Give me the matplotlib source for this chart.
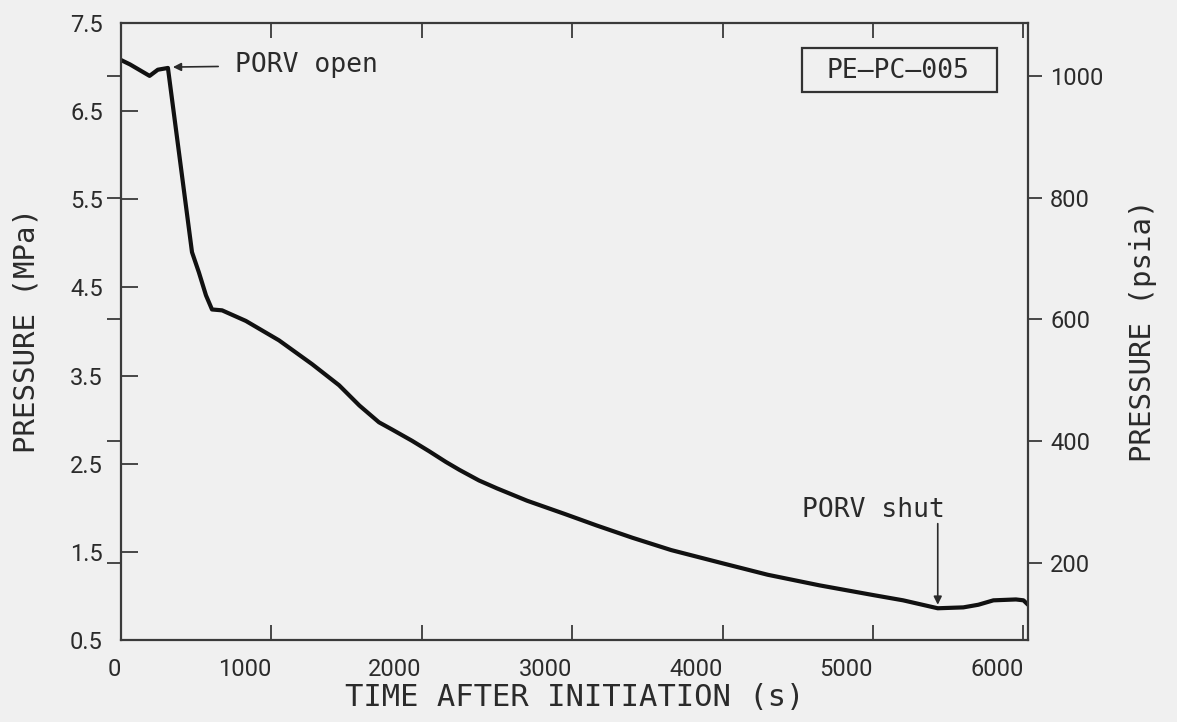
import matplotlib
matplotlib.use("Agg")
import matplotlib.pyplot as plt
from matplotlib.patches import Rectangle

# ---- data ----
time_s = [0, 60, 120, 190, 245, 312, 472, 518, 565, 605, 672, 830, 1050, 1270,
          1450, 1585, 1715, 1800, 1935, 2050, 2160, 2250, 2380, 2500, 2700, 2950,
          3161, 3400, 3658, 4000, 4300, 4644, 5000, 5200, 5430, 5600, 5700, 5800,
          5950, 6000, 6030]
pressure_mpa = [7.08, 7.03, 6.97, 6.90, 6.97, 6.99, 4.90, 4.67, 4.41, 4.25, 4.24,
                4.12, 3.90, 3.63, 3.39, 3.16, 2.97, 2.89, 2.76, 2.64, 2.52, 2.43,
                2.31, 2.22, 2.08, 1.93, 1.80, 1.66, 1.52, 1.37, 1.24, 1.12, 1.01,
                0.95, 0.86, 0.87, 0.90, 0.95, 0.96, 0.95, 0.90]

x_ticks = [0, 1000, 2000, 3000, 4000, 5000, 6000]
mpa_ticks = [0.5, 1.5, 2.5, 3.5, 4.5, 5.5, 6.5, 7.5]
psia_ticks = [200, 400, 600, 800, 1000]
MPA_TO_PSIA = 145.038

W, H = 1177, 722
BG = "#f0f0f0"
INK = "#2b2b2b"
TEXT_FONT = ["DejaVu Sans Mono", "DejaVu Sans"]
plt.rcParams['font.family'] = ['Roboto', 'DejaVu Sans']

fig = plt.figure(figsize=(W / 100, H / 100), dpi=100, facecolor=BG)
L, R, T, B = 121, 1028, 23, 640
ax = fig.add_axes([L / W, 1 - B / H, (R - L) / W, (B - T) / H])
ax.set_facecolor(BG)

ax.plot(time_s, pressure_mpa, color="#111111", lw=3.0,
        solid_joinstyle="round", solid_capstyle="round")

ax.set_xlim(0, 6030)
ax.set_ylim(0.5, 7.5)
ax.set_xticks(x_ticks)
ax.set_xticklabels([str(v) for v in x_ticks])
for lbl in ax.get_xticklabels():
    lbl.set_ha("right")
ax.set_yticks(mpa_ticks)
ax.set_yticklabels([f"{v:.1f}" for v in mpa_ticks])

for s in ax.spines.values():
    s.set_linewidth(1.6)
    s.set_color("#3a3a3a")

ax.tick_params(axis="x", direction="in", top=True, bottom=True, length=11,
               width=1.3, colors="#3a3a3a", labelcolor=INK, labelsize=17, pad=13)
ax.tick_params(axis="y", direction="in", left=True, right=True, length=12,
               width=1.3, colors="#3a3a3a", labelcolor=INK, labelsize=17, pad=13,
               labelleft=True, labelright=False)

ax2 = ax.twinx()
ax2.set_ylim(0.5 * MPA_TO_PSIA, 7.5 * MPA_TO_PSIA)
ax2.set_yticks(psia_ticks)
ax2.set_yticklabels([str(v) for v in psia_ticks])
ax2.tick_params(axis="y", direction="out", left=True, right=True, length=10,
                width=1.3, colors="#3a3a3a", labelcolor=INK, labelsize=17, pad=6,
                labelleft=False, labelright=True)
for s in ax2.spines.values():
    s.set_visible(False)

# annotations
ax.annotate("PORV open", xy=(345, 7.0), xytext=(757, 7.02),
            fontsize=19, family=TEXT_FONT, color=INK, va="center", ha="left",
            arrowprops=dict(arrowstyle="-|>", color=INK, lw=1.2,
                            mutation_scale=12, shrinkA=10, shrinkB=0))
ax.annotate("", xy=(5430, 0.9), xytext=(5430, 1.82),
            arrowprops=dict(arrowstyle="-|>", color=INK, lw=1.2,
                            mutation_scale=12, shrinkA=0, shrinkB=0))
ax.text(5005, 1.97, "PORV shut", fontsize=19, family=TEXT_FONT, color=INK,
        ha="center", va="center")

# ID box
fig.patches.append(Rectangle((802 / W, 1 - 92 / H), 195 / W, 44 / H,
                             transform=fig.transFigure, facecolor="none",
                             edgecolor="#333333", lw=1.6))
fig.text(898 / W, 1 - 71 / H, "PE\u2013PC\u2013005", fontsize=19, family=TEXT_FONT,
         color=INK, ha="center", va="center")

# axis labels
fig.text(575 / W, 1 - 697 / H, "TIME AFTER INITIATION (s)", fontsize=22,
         family=TEXT_FONT, color=INK, ha="center", va="center")
fig.text(27 / W, 1 - 331 / H, "PRESSURE (MPa)", fontsize=21, family=TEXT_FONT,
         color=INK, ha="center", va="center", rotation=90)
fig.text(1143 / W, 1 - 331 / H, "PRESSURE (psia)", fontsize=21, family=TEXT_FONT,
         color=INK, ha="center", va="center", rotation=90)

fig.savefig("out.png", dpi=100, facecolor=BG)
